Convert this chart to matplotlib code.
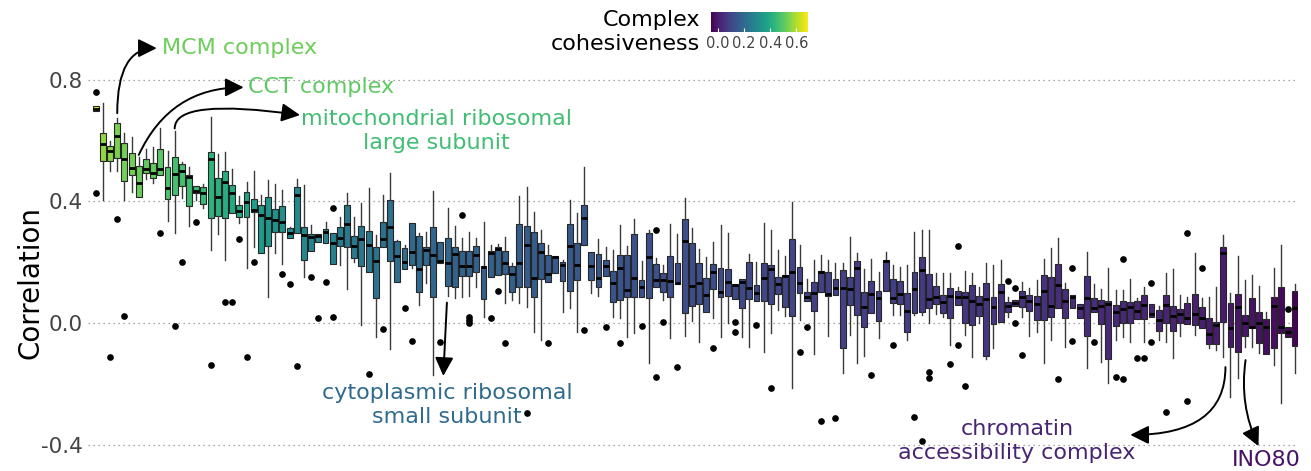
import matplotlib
matplotlib.use("Agg")
import matplotlib as mpl
import matplotlib.pyplot as plt
from matplotlib.patches import FancyArrowPatch

# per-complex box statistics (one entry per protein complex, sorted by median)
q1 = [
    0.697, 0.534, 0.533, 0.544, 0.468, 0.487, 0.413, 0.492, 0.476, 0.487,
    0.407, 0.421, 0.451, 0.385, 0.427, 0.391, 0.344, 0.353, 0.346, 0.361,
    0.350, 0.350, 0.364, 0.229, 0.253, 0.300, 0.300, 0.278, 0.297, 0.207,
    0.238, 0.265, 0.262, 0.194, 0.254, 0.251, 0.213, 0.188, 0.167, 0.081,
    0.251, 0.205, 0.134, 0.177, 0.191, 0.101, 0.190, 0.087, 0.198, 0.123,
    0.120, 0.155, 0.155, 0.169, 0.078, 0.152, 0.158, 0.161, 0.101, 0.120,
    0.117, 0.087, 0.145, 0.136, 0.163, 0.139, 0.105, 0.141, 0.257, 0.141,
    0.120, 0.155, 0.068, 0.076, 0.087, 0.087, 0.087, 0.083, 0.120, 0.101,
    0.084, 0.128, 0.032, 0.057, 0.063, 0.037, 0.111, 0.084, 0.090, 0.079,
    0.048, 0.079, 0.072, 0.072, 0.063, 0.095, 0.054, 0.023, 0.098, 0.073,
    0.039, 0.103, 0.089, 0.092, -0.083, 0.060, 0.025, -0.012, 0.032, 0.008,
    0.105, 0.065, 0.063, -0.029, 0.032, 0.037, 0.048, 0.061, 0.032, 0.015,
    0.059, -0.001, -0.007, 0.024, -0.109, -0.004, 0.004, 0.037, 0.056, 0.054,
    0.039, 0.010, 0.010, 0.021, 0.048, 0.015, 0.048, 0.018, -0.043, 0.037,
    -0.003, -0.120, -0.010, -0.001, -0.001, 0.012, 0.012, 0.021, -0.025, -0.001,
    -0.025, 0.001, -0.003, -0.007, -0.018, -0.069, -0.069, 0.004, -0.078, -0.094,
    -0.042, -0.018, -0.067, -0.102, -0.083, -0.034, -0.045, -0.075]

med = [
    0.705, 0.589, 0.567, 0.615, 0.539, 0.511, 0.462, 0.507, 0.492, 0.508,
    0.445, 0.489, 0.500, 0.479, 0.435, 0.427, 0.541, 0.416, 0.463, 0.427,
    0.370, 0.399, 0.372, 0.355, 0.346, 0.339, 0.333, 0.297, 0.420, 0.289,
    0.284, 0.287, 0.299, 0.262, 0.281, 0.326, 0.254, 0.277, 0.258, 0.205,
    0.275, 0.317, 0.221, 0.200, 0.232, 0.179, 0.240, 0.224, 0.204, 0.198,
    0.227, 0.189, 0.189, 0.224, 0.183, 0.231, 0.243, 0.196, 0.161, 0.198,
    0.257, 0.149, 0.234, 0.161, 0.218, 0.191, 0.254, 0.191, 0.346, 0.188,
    0.149, 0.189, 0.133, 0.182, 0.109, 0.149, 0.117, 0.218, 0.141, 0.141,
    0.138, 0.133, 0.270, 0.123, 0.133, 0.092, 0.168, 0.103, 0.135, 0.125,
    0.135, 0.114, 0.100, 0.149, 0.177, 0.129, 0.155, 0.169, 0.130, 0.087,
    0.098, 0.167, 0.094, 0.114, 0.114, 0.113, 0.182, 0.054, 0.094, 0.083,
    0.205, 0.081, 0.095, 0.041, 0.112, 0.174, 0.080, 0.087, 0.070, 0.090,
    0.087, 0.087, 0.072, 0.061, 0.079, 0.052, 0.103, 0.056, 0.065, 0.084,
    0.073, 0.063, 0.106, 0.057, 0.126, 0.073, 0.084, 0.048, 0.081, 0.048,
    0.056, 0.063, 0.035, 0.045, 0.054, 0.041, 0.059, 0.029, 0.010, 0.059,
    0.023, 0.030, 0.018, 0.030, 0.018, -0.037, -0.007, 0.231, -0.018, 0.054,
    0.001, -0.012, -0.001, -0.014, 0.057, -0.012, -0.029, 0.048]

q3 = [
    0.714, 0.626, 0.583, 0.659, 0.593, 0.560, 0.516, 0.539, 0.527, 0.571,
    0.512, 0.546, 0.524, 0.487, 0.451, 0.446, 0.564, 0.476, 0.501, 0.454,
    0.388, 0.430, 0.407, 0.388, 0.413, 0.374, 0.385, 0.311, 0.448, 0.317,
    0.293, 0.293, 0.308, 0.295, 0.317, 0.388, 0.286, 0.320, 0.304, 0.251,
    0.333, 0.405, 0.270, 0.246, 0.328, 0.286, 0.250, 0.315, 0.265, 0.281,
    0.251, 0.237, 0.237, 0.253, 0.188, 0.238, 0.251, 0.238, 0.188, 0.326,
    0.320, 0.300, 0.262, 0.223, 0.221, 0.202, 0.325, 0.262, 0.388, 0.235,
    0.227, 0.207, 0.172, 0.224, 0.224, 0.293, 0.141, 0.295, 0.194, 0.163,
    0.220, 0.196, 0.342, 0.262, 0.198, 0.147, 0.193, 0.182, 0.178, 0.127,
    0.144, 0.200, 0.125, 0.198, 0.191, 0.150, 0.158, 0.275, 0.183, 0.103,
    0.134, 0.172, 0.169, 0.144, 0.174, 0.152, 0.205, 0.101, 0.138, 0.105,
    0.207, 0.145, 0.138, 0.098, 0.169, 0.218, 0.161, 0.122, 0.092, 0.114,
    0.106, 0.103, 0.125, 0.090, 0.133, 0.084, 0.128, 0.070, 0.076, 0.106,
    0.092, 0.090, 0.158, 0.150, 0.193, 0.111, 0.092, 0.063, 0.156, 0.081,
    0.076, 0.073, 0.059, 0.073, 0.070, 0.073, 0.092, 0.063, 0.043, 0.092,
    0.057, 0.045, 0.065, 0.094, 0.054, 0.018, 0.004, 0.251, 0.065, 0.094,
    0.026, 0.083, 0.035, 0.012, 0.087, 0.120, -0.012, 0.105]

wlo = [
    0.697, 0.405, 0.501, 0.500, 0.405, 0.432, 0.413, 0.474, 0.462, 0.487,
    0.336, 0.295, 0.410, 0.320, 0.405, 0.377, 0.240, 0.293, 0.207, 0.361,
    0.330, 0.180, 0.250, 0.229, 0.087, 0.231, 0.194, 0.278, 0.297, 0.152,
    0.238, 0.265, 0.262, 0.194, 0.191, 0.111, 0.202, -0.007, 0.167, -0.045,
    0.251, -0.087, 0.134, 0.177, 0.180, 0.059, 0.130, -0.171, 0.198, 0.089,
    0.081, 0.087, 0.090, 0.120, 0.021, 0.152, 0.158, 0.065, 0.076, 0.065,
    0.054, -0.029, -0.056, 0.136, 0.163, 0.037, 0.048, -0.029, 0.257, 0.098,
    0.090, 0.155, 0.021, 0.015, -0.045, -0.034, 0.087, -0.133, 0.120, 0.076,
    -0.050, 0.128, -0.043, 0.008, -0.061, 0.037, 0.015, -0.047, -0.001, 0.079,
    -0.045, -0.078, 0.072, -0.094, -0.032, 0.043, 0.023, -0.215, 0.010, 0.073,
    -0.102, 0.103, -0.042, 0.092, -0.166, -0.039, -0.133, -0.109, 0.032, -0.050,
    0.105, 0.026, 0.026, -0.056, 0.026, 0.026, 0.001, 0.030, 0.021, -0.072,
    0.059, -0.039, -0.113, -0.001, -0.120, -0.083, 0.004, 0.021, 0.056, 0.021,
    -0.043, -0.029, -0.133, -0.056, 0.048, -0.078, 0.048, 0.018, -0.149, 0.037,
    -0.127, -0.198, -0.056, -0.045, -0.064, 0.012, -0.064, 0.021, -0.056, -0.061,
    -0.116, -0.043, -0.003, -0.039, -0.018, -0.083, -0.089, -0.111, -0.245, -0.182,
    -0.080, -0.078, -0.100, -0.102, -0.138, -0.262, -0.045, -0.166]

whi = [
    0.714, 0.723, 0.599, 0.673, 0.624, 0.611, 0.547, 0.573, 0.578, 0.643,
    0.567, 0.632, 0.531, 0.512, 0.451, 0.457, 0.679, 0.556, 0.564, 0.505,
    0.418, 0.465, 0.501, 0.421, 0.470, 0.457, 0.438, 0.317, 0.473, 0.454,
    0.322, 0.293, 0.333, 0.295, 0.350, 0.427, 0.350, 0.394, 0.443, 0.289,
    0.421, 0.495, 0.273, 0.257, 0.328, 0.295, 0.300, 0.434, 0.265, 0.377,
    0.320, 0.280, 0.300, 0.279, 0.333, 0.257, 0.260, 0.284, 0.196, 0.418,
    0.446, 0.366, 0.306, 0.257, 0.221, 0.207, 0.405, 0.363, 0.514, 0.235,
    0.275, 0.251, 0.240, 0.322, 0.253, 0.342, 0.205, 0.306, 0.213, 0.191,
    0.326, 0.293, 0.412, 0.311, 0.242, 0.218, 0.265, 0.322, 0.295, 0.127,
    0.144, 0.227, 0.200, 0.328, 0.306, 0.240, 0.220, 0.399, 0.257, 0.145,
    0.207, 0.224, 0.207, 0.198, 0.198, 0.284, 0.229, 0.177, 0.209, 0.167,
    0.235, 0.191, 0.185, 0.191, 0.298, 0.306, 0.306, 0.163, 0.163, 0.163,
    0.120, 0.172, 0.163, 0.120, 0.196, 0.191, 0.207, 0.087, 0.076, 0.136,
    0.114, 0.141, 0.209, 0.248, 0.279, 0.130, 0.092, 0.063, 0.235, 0.127,
    0.112, 0.180, 0.109, 0.109, 0.145, 0.081, 0.120, 0.063, 0.056, 0.166,
    0.177, 0.092, 0.087, 0.231, 0.081, 0.087, 0.117, 0.289, 0.100, 0.220,
    0.141, 0.158, 0.122, 0.037, 0.180, 0.257, -0.012, 0.128]

# complex cohesiveness (colour of each box)
cohesiveness = [
    0.66, 0.57, 0.56, 0.54, 0.53, 0.53, 0.52, 0.51, 0.51, 0.50,
    0.48, 0.47, 0.47, 0.46, 0.45, 0.45, 0.43, 0.42, 0.41, 0.40,
    0.39, 0.38, 0.36, 0.35, 0.34, 0.33, 0.32, 0.31, 0.30, 0.29,
    0.28, 0.28, 0.27, 0.27, 0.26, 0.25, 0.25, 0.24, 0.24, 0.23,
    0.22, 0.22, 0.21, 0.21, 0.20, 0.20, 0.20, 0.19, 0.19, 0.19,
    0.18, 0.18, 0.18, 0.18, 0.17, 0.17, 0.17, 0.17, 0.17, 0.16,
    0.16, 0.16, 0.16, 0.16, 0.15, 0.15, 0.15, 0.15, 0.15, 0.15,
    0.14, 0.14, 0.14, 0.14, 0.13, 0.13, 0.13, 0.13, 0.13, 0.12,
    0.12, 0.12, 0.12, 0.12, 0.12, 0.12, 0.12, 0.11, 0.11, 0.11,
    0.11, 0.11, 0.11, 0.10, 0.10, 0.10, 0.10, 0.10, 0.10, 0.09,
    0.09, 0.09, 0.09, 0.09, 0.09, 0.09, 0.08, 0.08, 0.08, 0.08,
    0.08, 0.08, 0.08, 0.08, 0.08, 0.07, 0.07, 0.07, 0.07, 0.07,
    0.06, 0.06, 0.06, 0.06, 0.06, 0.06, 0.05, 0.05, 0.05, 0.05,
    0.05, 0.05, 0.05, 0.04, 0.04, 0.04, 0.04, 0.04, 0.04, 0.04,
    0.03, 0.03, 0.03, 0.03, 0.03, 0.02, 0.02, 0.02, 0.02, 0.02,
    0.02, 0.01, 0.01, 0.01, 0.01, 0.00, 0.00, 0.00, -0.01, -0.01,
    -0.01, -0.02, -0.02, -0.03, -0.03, -0.04, -0.04, -0.05]

# outliers: box index and value
outlier_box = [0, 0, 2, 3, 4, 9, 11, 12, 14, 16, 18, 19, 20, 21, 22, 26, 27, 28,
               30, 31, 32, 33, 33, 38, 40, 43, 44, 48, 51, 52, 52, 52, 55, 56, 57,
               60, 63, 68, 71, 73, 76, 78, 78, 79, 81, 86, 89, 89, 92, 94, 98, 99,
               101, 103, 108, 111, 114, 115, 116, 116, 119, 120, 120, 121, 127,
               128, 128, 129, 134, 136, 136, 139, 142, 143, 143, 145, 146, 147,
               147, 149, 152, 152, 154, 166]
outlier_val = [0.759, 0.429, -0.111, 0.342, 0.024, 0.297, -0.010, 0.200, 0.332,
               -0.139, 0.069, 0.068, 0.275, -0.111, 0.200, 0.160, 0.128, -0.140,
               0.152, 0.015, 0.136, 0.379, 0.019, -0.169, -0.020, 0.050, -0.059,
               -0.061, 0.356, 0.020, 0.010, 0.000, 0.015, 0.106, -0.065, -0.295,
               -0.065, -0.023, -0.012, -0.067, -0.009, 0.306, -0.177, 0.004,
               -0.144, -0.081, 0.004, -0.029, -0.005, -0.213, -0.094, -0.014,
               -0.321, -0.314, -0.170, -0.072, -0.310, -0.388, -0.160, -0.182,
               -0.135, 0.253, -0.072, -0.207, 0.138, 0.114, -0.001, -0.105,
               -0.184, 0.182, -0.058, -0.061, -0.179, 0.211, -0.184, -0.116,
               -0.116, 0.130, -0.061, -0.292, 0.297, -0.255, 0.180, 0.045]

n = len(med)
assert all(len(a) == n for a in (q1, q3, wlo, whi, cohesiveness))
assert len(outlier_box) == len(outlier_val)

fig = plt.figure(figsize=(13.11, 4.71), dpi=100)
ax = fig.add_axes([88 / 1311, 0.0431, 1210 / 1311, 0.865])

cmap = plt.get_cmap("viridis")
norm = mpl.colors.Normalize(vmin=-0.055, vmax=0.69)

stats = []
for i in range(n):
    fl = [v for b, v in zip(outlier_box, outlier_val) if b == i]
    stats.append(dict(med=med[i], q1=q1[i], q3=q3[i],
                      whislo=wlo[i], whishi=whi[i], fliers=fl))

bp = ax.bxp(stats, positions=list(range(n)), widths=0.82, patch_artist=True,
            showcaps=False,
            boxprops=dict(edgecolor="#262626", linewidth=0.8),
            whiskerprops=dict(color="#3a3a3a", linewidth=1.0),
            medianprops=dict(color="black", linewidth=2.0),
            flierprops=dict(marker="o", markerfacecolor="black",
                            markeredgecolor="black", markersize=3.8))
for patch, c in zip(bp["boxes"], cohesiveness):
    patch.set_facecolor(cmap(norm(c)))

ax.set_xlim(-1.07, 167.4)
ax.set_ylim(-0.42, 0.92)
ax.set_xticks([])
ax.set_yticks([-0.4, 0.0, 0.4, 0.8])
ax.set_yticklabels(["-0.4", "0.0", "0.4", "0.8"])
ax.tick_params(axis="y", length=0, pad=4, labelsize=15.5, labelcolor="#444444")
for s in ax.spines.values():
    s.set_visible(False)
ax.grid(axis="y", linestyle=(0, (1, 3)), color="#8a8a8a", linewidth=0.9)
ax.set_axisbelow(True)
ax.set_ylabel("Correlation", fontsize=20)
ax.yaxis.set_label_coords(-0.036, 0.414)


def arrow(p0, p1, cs):
    a = FancyArrowPatch(p0, p1, connectionstyle=cs,
                        arrowstyle="-|>,head_length=0.8,head_width=0.4",
                        mutation_scale=14, lw=1.4, color="black",
                        shrinkA=0, shrinkB=0, clip_on=False, zorder=5)
    ax.add_patch(a)


arrow((3, 0.69), (8.5, 0.904), "angle3,angleA=90,angleB=0")
arrow((6, 0.553), (20.6, 0.775), "angle3,angleA=65,angleB=0")
arrow((11, 0.64), (28.45, 0.684), "angle3,angleA=90,angleB=-8")
arrow((48.9, 0.067), (48.4, -0.174), "arc3,rad=0")
arrow((157.3, -0.145), (144.05, -0.368), "angle3,angleA=90,angleB=0")
arrow((160.1, -0.122), (161.9, -0.405), "arc3,rad=0.15")

ax.text(9.2, 0.905, "MCM complex", color="#6ccd5a", fontsize=16,
        ha="left", va="center")
ax.text(21.25, 0.777, "CCT complex", color="#5ec962", fontsize=16,
        ha="left", va="center")
ax.text(47.5, 0.63, "mitochondrial ribosomal\nlarge subunit", color="#40bd72",
        fontsize=16, ha="center", va="center", linespacing=1.25)
ax.text(48.9, -0.27, "cytoplasmic ribosomal\nsmall subunit", color="#2f6b8e",
        fontsize=16, ha="center", va="center", linespacing=1.25)
ax.text(128.3, -0.388, "chromatin\naccessibility complex", color="#482475",
        fontsize=16, ha="center", va="center", linespacing=1.2)
ax.text(163, -0.45, "INO80", color="#471365", fontsize=16,
        ha="center", va="center")

# colour bar
cax = fig.add_axes([711 / 1311, 1 - 31.7 / 471, 97 / 1311, 19.4 / 471])
sm = mpl.cm.ScalarMappable(norm=norm, cmap=cmap)
cb = fig.colorbar(sm, cax=cax, orientation="horizontal")
cb.set_ticks([0.0, 0.2, 0.4, 0.6])
cb.ax.tick_params(labelsize=10.5, labelcolor="#444444", color="white",
                  direction="in", length=3, pad=3)
cb.outline.set_visible(False)
fig.text(700 / 1311, 1 - 32 / 471, "Complex\ncohesiveness", ha="right",
         va="center", fontsize=16, linespacing=1.2)

fig.savefig("out.png", dpi=100)
